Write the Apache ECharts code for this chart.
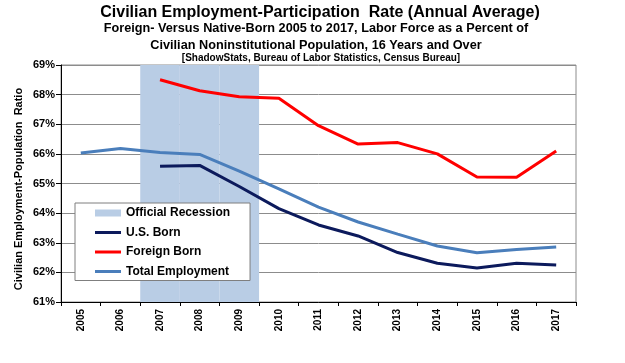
<!DOCTYPE html>
<html>
<head>
<meta charset="utf-8">
<script src="https://cdn.jsdelivr.net/npm/echarts@6/dist/echarts.min.js"></script>
<style>html,body{margin:0;padding:0;background:#fff;}#c{width:625px;height:363px;}</style>
</head>
<body>
<div id="c"></div>
<script>
const years = ['2005','2006','2007','2008','2009','2010','2011','2012','2013','2014','2015','2016','2017'];
const recession = [null, null, 69, 69, 69, null, null, null, null, null, null, null, null];
const usBorn = [null, null, 65.58, 65.61, 64.9, 64.15, 63.6, 63.23, 62.67, 62.31, 62.15, 62.31, 62.25];
const foreignBorn = [null, null, 68.5, 68.13, 67.93, 67.88, 66.95, 66.33, 66.38, 66.0, 65.22, 65.21, 66.1];
const totalEmp = [66.03, 66.18, 66.05, 65.98, 65.42, 64.82, 64.2, 63.7, 63.29, 62.89, 62.66, 62.77, 62.86];
const yMin = 61, yMax = 69;

const FONT = '"Liberation Sans", Arial, sans-serif';
const LINE_ICON = 'path://M0,0L26,0L26,3L0,3Z';
const chart = echarts.init(document.getElementById('c'), null, {renderer: 'canvas'});
chart.setOption({
  animation: false,
  backgroundColor: '#fff',
  textStyle: {fontFamily: FONT},
  title: [
    {text: 'Civilian Employment-Participation  Rate (Annual Average)', left: 315, top: 0, textAlign: 'center',
     textStyle: {fontFamily: FONT, fontSize: 16, fontWeight: 'bold', color: '#000'}},
    {text: 'Foreign- Versus Native-Born 2005 to 2017, Labor Force as a Percent of', left: 311, top: 17, textAlign: 'center',
     textStyle: {fontFamily: FONT, fontSize: 12.7, fontWeight: 'bold', color: '#000'}},
    {text: 'Civilian Noninstitutional Population, 16 Years and Over', left: 311, top: 34, textAlign: 'center',
     textStyle: {fontFamily: FONT, fontSize: 12.7, fontWeight: 'bold', color: '#000'}},
    {text: '[ShadowStats, Bureau of Labor Statistics, Census Bureau]', left: 316, top: 48, textAlign: 'center',
     textStyle: {fontFamily: FONT, fontSize: 10, fontWeight: 'bold', color: '#000'}}
  ],
  graphic: [
    {type: 'text', x: 19, y: 189, rotation: Math.PI / 2,
     style: {text: 'Civilian Employment-Population  Ratio', font: 'bold 11px ' + FONT, fill: '#000', align: 'center', verticalAlign: 'middle'}}
  ],
  legend: {
    orient: 'vertical', left: 75, top: 203,
    padding: [3, 20, 2, 20],
    itemWidth: 26, itemHeight: 7, itemGap: 5.5, itemTextGap: 3,
    symbolKeepAspect: true,
    backgroundColor: '#fff', borderColor: '#7f7f7f', borderWidth: 1,
    textStyle: {fontFamily: FONT, fontSize: 12, fontWeight: 'bold', color: '#000', lineHeight: 14},
    data: [
      {name: 'Official Recession', icon: 'rect'},
      {name: 'U.S. Born', icon: LINE_ICON},
      {name: 'Foreign Born', icon: LINE_ICON},
      {name: 'Total Employment', icon: LINE_ICON}
    ]
  },
  grid: {left: 61, right: 49, top: 65, bottom: 61, show: true, borderColor: '#8c8c8c', borderWidth: 1},
  xAxis: {
    type: 'category', data: years, boundaryGap: true,
    axisLine: {lineStyle: {color: '#000', width: 1}},
    axisTick: {show: true, alignWithLabel: false, length: 4, lineStyle: {color: '#000'}},
    axisLabel: {rotate: 90, fontFamily: FONT, fontSize: 10, fontWeight: 'bold', color: '#000', margin: 7},
    splitLine: {show: false}
  },
  yAxis: {
    type: 'value', min: yMin, max: yMax, interval: 1,
    axisLine: {show: true, lineStyle: {color: '#000', width: 1}},
    axisTick: {show: true, inside: false, length: 5, lineStyle: {color: '#000'}},
    axisLabel: {formatter: '{value}%', fontFamily: FONT, fontSize: 11, fontWeight: 'bold', color: '#000', margin: 6},
    splitLine: {show: true, lineStyle: {color: '#8c8c8c', width: 1}}
  },
  series: [
    {name: 'Official Recession', type: 'bar', data: recession, barWidth: '100%', barCategoryGap: '0%',
     itemStyle: {color: '#b9cde5'}, clip: true, z: 1, silent: true},
    {name: 'Total Employment', type: 'line', data: totalEmp, symbol: 'none', showSymbol: false,
     lineStyle: {color: '#4a7ebb', width: 3}, itemStyle: {color: '#4a7ebb'}, z: 3},
    {name: 'U.S. Born', type: 'line', data: usBorn, symbol: 'none', showSymbol: false,
     lineStyle: {color: '#0c1a5c', width: 3}, itemStyle: {color: '#0c1a5c'}, z: 3},
    {name: 'Foreign Born', type: 'line', data: foreignBorn, symbol: 'none', showSymbol: false,
     lineStyle: {color: '#ff0000', width: 3}, itemStyle: {color: '#ff0000'}, z: 3}
  ]
});
</script>
</body>
</html>
